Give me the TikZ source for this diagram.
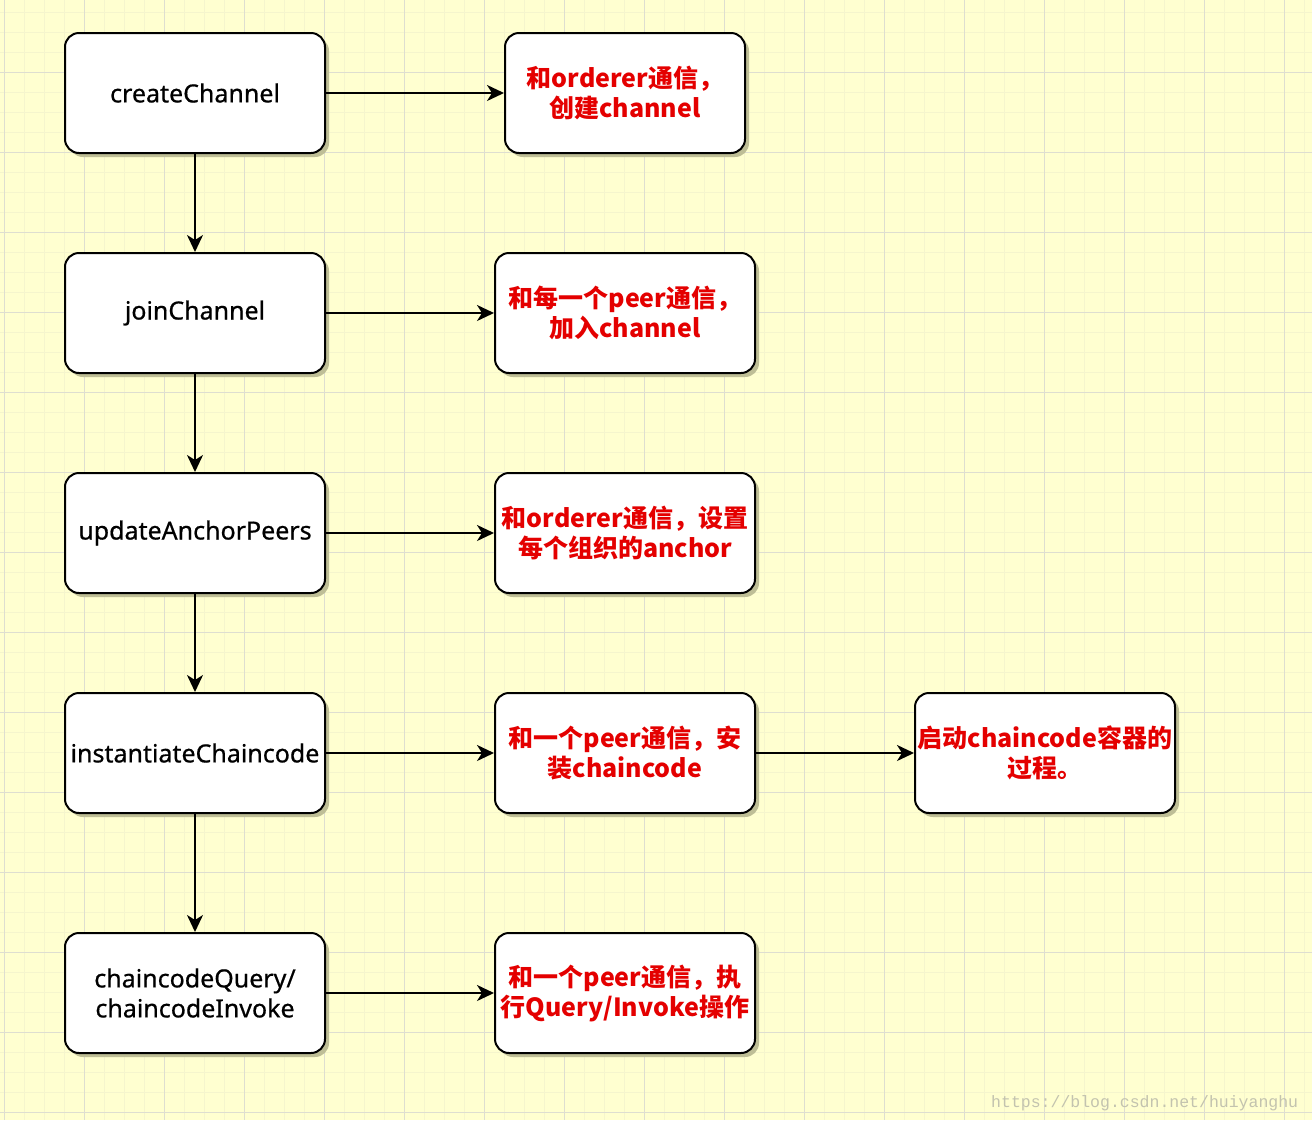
\documentclass[tikz,border=0pt]{standalone}
\usepackage{fontspec}
\setmainfont{Noto Sans}
\newfontfamily\cjk{Noto Sans CJK SC}
\newfontfamily\wmfont{Liberation Mono}
\usetikzlibrary{arrows.meta,shadows}
\definecolor{bgcol}{RGB}{255,255,208}
\definecolor{minorgrid}{RGB}{245,245,205}
\definecolor{majorgrid}{RGB}{222,222,208}
\definecolor{shadowcol}{RGB}{190,190,150}
\definecolor{redtxt}{RGB}{228,0,0}
\definecolor{wmcol}{RGB}{195,195,175}
\tikzset{
  box/.style={draw=black, line width=2pt, rounded corners=14pt, fill=white,
    minimum width=260pt, minimum height=120pt, align=center, inner sep=1pt,
    general shadow={fill=shadowcol, shadow xshift=4pt, shadow yshift=-4pt}},
  leftbox/.style={box, font=\addfontfeatures{FakeBold=0.6}\fontsize{25}{30}\selectfont},
  notebox/.style={box, text=redtxt, font=\cjk\bfseries\fontsize{25}{30}\selectfont},
  conn/.style={line width=2pt, -{Stealth[length=17pt, width=16pt, inset=5pt]}}
}
\begin{document}
\begin{tikzpicture}[x=1pt,y=-1pt]
\fill[bgcol] (0,0) rectangle (1312,1120);
\useasboundingbox (0,0) rectangle (1312,1120);
\foreach \x in {4,24,...,1312} \draw[minorgrid, line width=1pt] (\x,0) -- (\x,1120);
\foreach \y in {12,32,...,1120} \draw[minorgrid, line width=1pt] (0,\y) -- (1312,\y);
\foreach \x in {4,84,...,1312} \draw[majorgrid, line width=1pt] (\x,0) -- (\x,1120);
\foreach \y in {72,152,...,1120} \draw[majorgrid, line width=1pt] (0,\y) -- (1312,\y);

\node[leftbox] (a1) at (195,93) {createChannel};
\node[leftbox] (a2) at (195,313) {joinChannel};
\node[leftbox] (a3) at (195,533) {updateAnchorPeers};
\node[leftbox] (a4) at (195,753) {instantiateChaincode};
\node[leftbox] (a5) at (195,993) {chaincodeQuery/\\chaincodeInvoke};

\node[notebox, minimum width=240pt] (b1) at (625,93) {和orderer通信，\\创建channel};
\node[notebox] (b2) at (625,313) {和每一个peer通信，\\加入channel};
\node[notebox] (b3) at (625,533) {和orderer通信，设置\\每个组织的anchor};
\node[notebox] (b4) at (625,753) {和一个peer通信，安\\装chaincode};
\node[notebox] (b5) at (625,993) {和一个peer通信，执\\行Query/Invoke操作};
\node[notebox] (c4) at (1045,753) {启动chaincode容器的\\过程。};

\draw[conn] (a1) -- (a2);
\draw[conn] (a2) -- (a3);
\draw[conn] (a3) -- (a4);
\draw[conn] (a4) -- (a5);
\draw[conn] (a1) -- (b1);
\draw[conn] (a2) -- (b2);
\draw[conn] (a3) -- (b3);
\draw[conn] (a4) -- (b4);
\draw[conn] (a5) -- (b5);
\draw[conn] (b4) -- (c4);

\node[anchor=base west, inner sep=0pt, text=wmcol, font=\wmfont\fontsize{16.5}{18}\selectfont] (wm) at (991,1107) {https://blog.csdn.net/huiyanghu};
\end{tikzpicture}
\end{document}
